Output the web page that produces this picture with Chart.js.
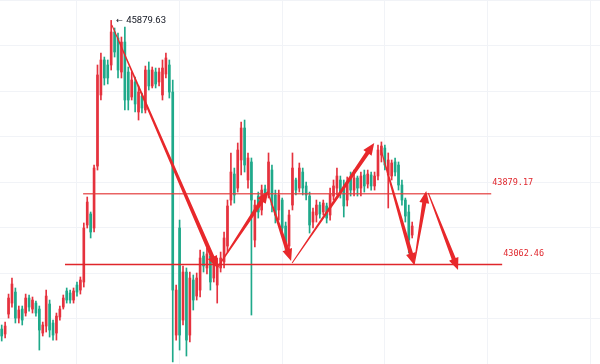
<!DOCTYPE html>
<html>
<head>
<meta charset="utf-8">
<script src="https://cdn.jsdelivr.net/npm/chart.js@4.4.0/dist/chart.umd.min.js"></script>
<style>
html, body { margin: 0; padding: 0; background: #fff; }
#wrap { width: 600px; height: 364px; position: relative; }
</style>
</head>
<body>
<div id="wrap"><canvas id="kline"></canvas></div>
<script>
// candles, one per bar (index = position on the x axis)
const opens = [42318,42261,42491,42618,42745,42445,42549,42503,42676,42549,42618,42549,42272,42353,42607,42388,42272,42457,42572,42757,
  42734,42653,42826,42768,42861,43519,43646,43484,44199,45019,45423,45365,45365,45746,45677,45284,45630,45284,44996,45169,
  44823,45007,44846,45307,45123,45284,45169,45019,45261,45365,45053,42249,43484,42422,42976,42249,42884,42699,42768,43161,
  43023,43161,42907,42826,43023,43092,43276,43807,44107,43945,44269,44638,44038,44246,43345,43853,43692,43934,43865,44153,
  43865,43692,43807,43507,43276,43749,44038,43945,44130,43969,43853,43553,43634,43749,43669,43738,43634,43853,43945,44038,
  43945,43807,44061,43922,44061,43945,44096,43992,44096,43969,44084,44326,44407,44096,44084,44246,44211,43980,43807,43669,43403];
const highs = [42365,42399,42722,42907,42792,42584,42584,42722,42711,42688,42642,42584,42399,42768,42653,42422,42503,42584,42711,42792,
  42768,42792,42861,42919,43542,43842,43669,44211,45365,45503,45457,45423,45879.63,45792,45734,45688,45803,45342,45284,45227,
  45123,45042,45353,45400,45342,45330,45330,45423,45503,45423,45192,42826,43576,43046,43023,42976,42942,42965,43230,43207,
  43253,43207,43138,43138,43207,43438,43807,44350,44176,44465,44707,44730,44350,44292,43807,43899,43980,43980,44350,44211,
  43922,43922,43830,43553,43692,44350,44061,44234,44176,44015,43899,43715,43807,43784,43807,43772,43945,44038,44176,44084,
  44038,44073,44130,44153,44084,44130,44153,44153,44130,44130,44442,44477,44442,44350,44269,44292,44246,44038,43830,43749,43553];
const lows = [42180,42215,42445,42572,42388,42388,42365,42468,42526,42503,42468,42076,42238,42284,42226,42191,42191,42422,42549,42618,
  42618,42618,42699,42722,42803,43484,43369,43438,44153,44961,45134,45146,45307,45457,45215,45215,44846,44846,44961,44823,
  44730,44811,44811,45076,45100,45100,45123,44961,45215,44984,41938,42191,42076,42365,42007,42169,42538,42653,42688,42976,
  42953,42768,42861,42618,42976,43023,43207,43749,43772,43899,44096,44130,43945,42480,43265,43599,43634,43830,43830,43669,
  43542,43576,43403,43230,43161,43692,43865,43899,43865,43807,43426,43484,43553,43599,43634,43542,43576,43807,43865,43830,
  43611,43738,43853,43853,43853,43853,43899,43945,43922,43922,44038,44246,44153,43715,44038,44084,43922,43749,43553,43196,43369];
const closes = [42238,42353,42676,42838,42445,42538,42422,42676,42572,42653,42503,42307,42365,42699,42307,42249,42468,42549,42676,42653,
  42653,42757,42745,42884,43484,43784,43438,44176,45250,45423,45215,45215,45746,45515,45307,45630,44961,44961,45192,44915,
  45053,44869,45307,45123,45307,45146,45284,45330,45446,45053,42768,42768,42249,42976,42191,42907,42653,42907,43138,43046,
  43184,42861,43092,43069,43138,43369,43738,44130,43865,44384,44638,44211,44292,43807,43749,43669,43922,43865,44246,43749,
  43634,43865,43484,43299,43634,44176,43922,44176,43945,43865,43519,43669,43749,43646,43772,43599,43876,43969,44084,43899,
  43738,44015,43922,44061,43945,44084,43969,44107,43969,44084,44384,44430,44211,44269,44234,44130,43980,43807,43622,43345,43507];

// time grid every 30 bars
const timeTicks = [22, 52, 82, 112, 142, 172];

// horizontal levels drawn on the chart
const levels = [43879.17, 43062.46];
const levelFrom = [23.8, 18.5];
const levelTo = [143.1, 146.3];

// hand drawn arrows (bar index, price)
const arrowFromX = [32.2, 63.0, 77.9, 84.9, 110.9, 120.6, 124.7];
const arrowFromY = [45827, 43022, 43888, 43080, 44384, 43069, 43888];
const arrowToX = [63.0, 77.9, 84.6, 108.9, 120.6, 124.1, 133.4];
const arrowToY = [43022, 43911, 43103, 44465, 43057, 43911, 42999];

const upColor = '#e5323e';
const downColor = '#1fa98a';
const gridColor = '#f1f3f7';
const drawColor = '#e8282b';

const candleColors = opens.map((o, i) => closes[i] >= o ? upColor : downColor);

const drawArrow = function (ctx, x0, y0, x1, y1) {
    const len = Math.hypot(x1 - x0, y1 - y0);
    const ux = (x1 - x0) / len, uy = (y1 - y0) / len;
    const nx = -uy, ny = ux;
    const headLen = 12, headW = 5, neckW = 2.1, tailW = 0.5;
    const bx = x1 - ux * headLen, by = y1 - uy * headLen;
    ctx.beginPath();
    ctx.moveTo(x0 + nx * tailW, y0 + ny * tailW);
    ctx.lineTo(bx + nx * neckW, by + ny * neckW);
    ctx.lineTo(bx + nx * headW, by + ny * headW);
    ctx.lineTo(x1, y1);
    ctx.lineTo(bx - nx * headW, by - ny * headW);
    ctx.lineTo(bx - nx * neckW, by - ny * neckW);
    ctx.lineTo(x0 - nx * tailW, y0 - ny * tailW);
    ctx.closePath();
    ctx.fill();
}

const drawings = {
    id: 'drawings',
    afterDatasetsDraw(chart) {
        const ctx = chart.ctx;
        const xs = chart.scales.x, ys = chart.scales.y;
        ctx.save();

        // levels + their labels
        levels.forEach((v, k) => {
            const py = ys.getPixelForValue(v);
            const x0 = xs.getPixelForValue(levelFrom[k]);
            const x1 = xs.getPixelForValue(levelTo[k]);
            ctx.strokeStyle = k === 0 ? 'rgba(228,60,60,0.8)' : '#e0262b';
            ctx.lineWidth = 1.4;
            ctx.beginPath();
            ctx.moveTo(x0, py);
            ctx.lineTo(x1, py);
            ctx.stroke();
            ctx.fillStyle = '#e0282e';
            ctx.font = '8.5px "DejaVu Sans Mono", monospace';
            ctx.textAlign = 'left';
            ctx.textBaseline = 'alphabetic';
            ctx.fillText(v.toFixed(2), x1 + 1, py - 9);
        });

        // arrows
        ctx.fillStyle = drawColor;
        arrowFromX.forEach((ax, k) => {
            drawArrow(ctx,
                xs.getPixelForValue(ax), ys.getPixelForValue(arrowFromY[k]),
                xs.getPixelForValue(arrowToX[k]), ys.getPixelForValue(arrowToY[k]));
        });

        // highest price marker
        const top = Math.max(...highs);
        const topIdx = highs.indexOf(top);
        const px = xs.getPixelForValue(topIdx);
        const py = ys.getPixelForValue(top);
        ctx.fillStyle = '#131722';
        ctx.font = '8px "DejaVu Sans", sans-serif';
        ctx.fillText('\u2190', px + 5, py + 3);
        ctx.font = '9.5px Roboto, sans-serif';
        ctx.fillText(top.toFixed(2), px + 15, py + 3);

        ctx.restore();
    }
};

new Chart('kline', {
    type: 'bar',
    data: {
        datasets: [{
            data: opens.map((o, i) => ({x: i, y: [lows[i], highs[i]]})),
            backgroundColor: candleColors,
            barThickness: 1,
            grouped: false
        }, {
            data: opens.map((o, i) => ({x: i, y: [o, closes[i]]})),
            backgroundColor: candleColors,
            barThickness: 2,
            minBarLength: 1,
            grouped: false
        }]
    },
    options: {
        responsive: true,
        maintainAspectRatio: false,
        animation: false,
        layout: {padding: 0},
        plugins: {
            legend: {display: false},
            tooltip: {enabled: false}
        },
        scales: {
            x: {
                type: 'linear',
                min: -0.5,
                max: 174.9,
                offset: false,
                grid: {color: gridColor, drawTicks: false, offset: false},
                border: {display: false},
                ticks: {display: false},
                afterBuildTicks: (scale) => {
                    scale.ticks = timeTicks.map((v) => ({value: v}));
                }
            },
            y: {
                min: 41915,
                max: 46115,
                grid: {color: gridColor, drawTicks: false},
                border: {display: false},
                ticks: {display: false, stepSize: 500, includeBounds: false}
            }
        }
    },
    plugins: [drawings]
});
</script>
</body>
</html>
